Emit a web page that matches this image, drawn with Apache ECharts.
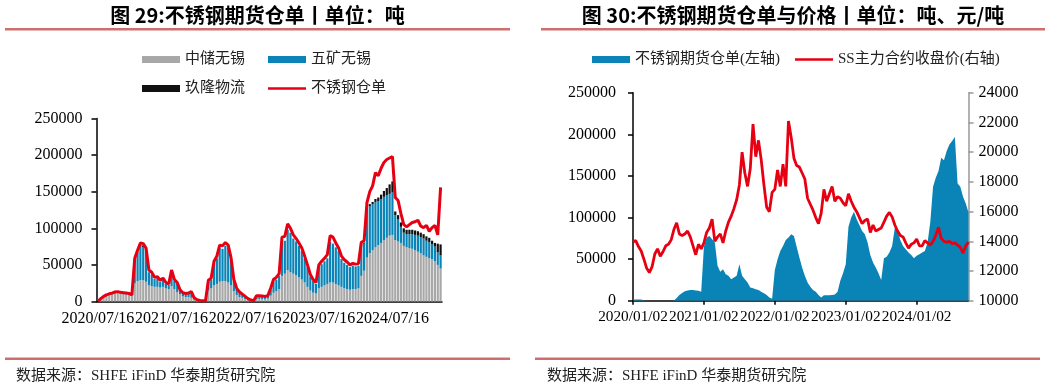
<!DOCTYPE html>
<html><head><meta charset="utf-8">
<script src="https://cdn.jsdelivr.net/npm/echarts@6/dist/echarts.min.js"></script>
<style>html,body{margin:0;padding:0;background:#fff}#c{width:1057px;height:389px}</style>
</head><body><div id="c"></div>
<script>
// ---------- Chart 1 (biweekly from 2020/07/16) ----------
const tickLabels1 = ['2020/07/16','2021/07/16','2022/07/16','2023/07/16','2024/07/16'];
const tickIdx1 = [0,26,52,78,104];
const gray1 = [
0,3000,5500,7500,9000,10000,11000,11500,10500,10000,
9500,9000,7500,25000,28000,29000,29000,27000,22000,21000,
20000,20000,19000,20000,18000,17000,21000,17000,13000,10000,
7000,6000,6000,5000,3000,1500,800,500,500,15000,
18000,22000,24000,27000,28000,28000,26000,22000,14000,9000,
6000,5000,3500,2000,1000,500,3000,3500,3500,3500,
4000,8000,12000,14000,17000,35000,38000,43000,40000,38000,
36000,33000,30000,26000,20000,15000,12000,11000,18000,20000,
22000,24000,26000,26000,24000,22000,20000,18000,17000,16000,
17000,17000,18000,35000,42000,60000,66000,70000,74000,77000,
80000,84000,87000,90000,91000,84000,82000,80000,76000,74000,
73000,72000,70000,68000,66000,63000,61000,59000,58000,55000,
50000,45000];
const blue1 = [
0,500,800,800,800,800,1000,1000,1000,1000,
1000,1000,800,30000,38000,46000,45000,40000,18000,16000,
11000,12000,8000,10000,6000,5500,19000,11000,11000,5000,
4000,4000,4500,6000,1500,800,500,300,300,12000,
12000,30000,35000,46000,44000,48000,47000,34000,14000,8000,
6000,4000,3000,1500,800,300,4000,3500,3000,3000,
3500,8000,15000,16000,18000,45000,45000,55000,54000,48000,
46000,43000,39000,33000,27000,19000,16000,13000,28000,31000,
33000,35000,55000,53000,50000,47000,38000,35000,33000,31000,
32000,31000,31000,42000,37000,65000,64000,63000,62000,60000,
60000,59000,58000,57000,58000,34000,30000,22000,18000,18000,
19000,20000,21000,22000,22000,23000,22000,22000,20000,20000,
17000,18000];
const black1 = [
0,0,0,0,0,0,0,0,0,0,
0,0,0,0,1000,2000,2500,2000,0,0,
0,0,0,0,0,0,0,0,0,0,
0,0,0,0,0,0,0,0,0,0,
0,0,0,0,0,0,0,0,0,0,
0,0,0,0,0,0,0,0,0,0,
0,0,0,0,0,0,0,0,0,0,
0,0,0,0,0,0,0,0,0,0,
0,0,0,0,0,0,0,0,0,0,
0,0,0,1000,1500,2000,3000,3000,4000,5000,
6000,8000,10000,13000,15000,5000,6000,6000,6000,6000,
6000,6000,6000,6000,6000,6000,6000,6000,5000,5000,
12000,15000];
const total1 = [
0,4000,7000,9000,10500,11500,13000,13500,12500,12000,
11500,11000,9000,59000,70000,80000,79000,73000,43000,40000,
33000,34000,29000,32000,26000,24000,43000,30000,26000,16000,
12000,11000,11500,13500,5000,2500,1500,1000,1000,29000,
32000,55000,62000,77000,76000,80500,77000,60000,30000,18000,
13000,10000,7000,4000,2000,1000,8000,8000,7500,7000,
8000,18000,30000,33000,38000,88000,89000,106000,100000,91000,
86000,80000,73000,62000,50000,37000,30000,26000,50000,55000,
59000,64000,90000,88000,80000,73000,62000,57000,54000,50000,
52000,51000,52000,81000,83000,135000,150000,158000,176000,172000,
182000,190000,194000,196000,198000,142000,138000,120000,105000,102000,
105000,108000,109000,111000,103000,101000,104000,96000,101000,104000,
91000,156000];

// ---------- Chart 2 (biweekly from 2020/01/02) ----------
const tickLabels2 = ['2020/01/02','2021/01/02','2022/01/02','2023/01/02','2024/01/02'];
const tickIdx2 = [0,26,52,78,104];
const receipts2 = [
1500,1700,1700,1500,800,200,0,0,0,0,
0,0,0,0,0,500,3500,7000,9500,11500,
12500,13000,13000,12500,12000,11000,65000,76000,78000,74000,
70000,42000,35000,38000,32000,30000,26000,28000,30000,44000,
30000,26000,22000,16000,15000,14000,13000,11000,9000,7000,
4000,2500,37000,50000,60000,66000,73000,76000,80000,78000,
65000,52000,40000,30000,22000,17000,13000,11000,7000,4000,
6800,6800,6800,7000,7500,11000,24000,33000,44000,89000,
100000,107000,98000,91000,84000,80000,70000,55000,46000,40000,
33000,25000,51000,53000,58000,66000,88000,84000,73000,66000,
62000,58000,55000,51000,54000,56000,58000,60000,70000,95000,
137000,148000,156000,172000,169000,180000,188000,192000,197000,141000,
137000,125000,117000,106000];
const price2 = [
13960,14050,13650,13350,12800,12200,11900,12300,13150,13500,
13000,13300,13700,13800,14100,14800,15250,14500,14400,14500,
14700,14300,13700,13100,13800,13500,13900,14600,14900,15500,
14000,14300,14500,13900,14700,15300,15700,16200,16800,17800,
20000,18600,17700,18900,21900,19700,20800,19500,17800,16300,
16000,17300,17500,18800,17700,19200,17700,22100,21000,19600,
19100,19000,18600,18200,16900,16500,16100,15600,15200,15900,
17500,16700,17200,17700,16700,17000,16900,16600,16400,17200,
16700,16300,16000,15600,15200,15400,15500,14600,15100,14700,
14800,14900,15300,15700,15950,15650,15100,14700,14400,14300,
13900,13550,13800,13900,14150,13700,13700,14050,13900,13750,
14000,14400,14950,14200,14000,13950,14000,13850,13900,13750,
13600,13200,13700,13950];

function dateCats(start, n, stepDays){
  const out=[]; const d0=new Date(start+'T00:00:00Z').getTime();
  for(let i=0;i<n;i++){ out.push(new Date(d0+i*stepDays*864e5).toISOString().slice(0,10).replace(/-/g,'/')); }
  return out;
}
const cats1 = dateCats('2020-07-16', total1.length, 14);
const cats2 = dateCats('2020-01-02', price2.length, 14);

const SERIF = '"Liberation Serif","Noto Sans CJK SC",serif';
const RED = '#E60012', BLUE = '#0A84B6', GRAY = '#A8A8A8', BLACK = '#111111';

const chart = echarts.init(document.getElementById('c'));
const axisLab = {fontFamily: SERIF, fontSize: 16, color: '#000', formatter: (v)=>String(v)};
const legText = {fontFamily: SERIF, fontSize: 15, color: '#222'};
function leg(left, top, h, gap, data){
  return {left: left, top: top, itemWidth: 38, itemHeight: h, itemGap: gap, textStyle: legText, data: data, selectedMode: false};
}

chart.setOption({
  animation: false,
  backgroundColor: '#fff',
  grid: [
    {left: 96.5, top: 118.5, width: 345.5, height: 183},
    {left: 633, top: 92.8, width: 335.5, height: 208}
  ],
  legend: [
    leg(137, 47, 7, 23, [{name:'中储无锡', icon:'rect'}, {name:'五矿无锡', icon:'rect'}]),
    leg(137, 76, 7, 23, [{name:'玖隆物流', icon:'rect'}]),
    leg(263, 76, 2.5, 23, [{name:'不锈钢仓单', icon:'rect'}]),
    leg(587, 47, 7, 7, [{name:'不锈钢期货仓单(左轴)', icon:'rect'}]),
    leg(790, 47, 2.5, 7, [{name:'SS主力合约收盘价(右轴)', icon:'rect'}])
  ],
  xAxis: [
    {type: 'category', gridIndex: 0, data: cats1, boundaryGap: true,
     axisLine: {lineStyle: {color: '#000', width: 1.5}},
     axisTick: {alignWithLabel: true, length: 4, interval: (i)=>tickIdx1.includes(i), lineStyle: {color: '#000', width: 1.5}},
     axisLabel: {fontFamily: SERIF, fontSize: 16, color: '#000', interval: (i)=>tickIdx1.includes(i), margin: 9,
       showMinLabel: true, showMaxLabel: true, hideOverlap: false,
       formatter: (v, i)=>tickLabels1[tickIdx1.indexOf(i)] || ''}},
    {type: 'category', gridIndex: 1, data: cats2, boundaryGap: false,
     axisLine: {lineStyle: {color: '#000', width: 1.5}},
     axisTick: {length: 4, interval: (i)=>tickIdx2.includes(i), lineStyle: {color: '#000', width: 1.5}},
     axisLabel: {fontFamily: SERIF, fontSize: 15.3, color: '#000', interval: (i)=>tickIdx2.includes(i), margin: 9,
       showMinLabel: true, showMaxLabel: true, hideOverlap: false,
       formatter: (v, i)=>tickLabels2[tickIdx2.indexOf(i)] || ''}}
  ],
  yAxis: [
    {type: 'value', gridIndex: 0, min: 0, max: 250000, interval: 50000, splitLine: {show: false},
     axisLine: {show: true, lineStyle: {color: '#000', width: 1.5}},
     axisTick: {show: true, length: 5, lineStyle: {color: '#000', width: 1.5}},
     axisLabel: Object.assign({margin: 14}, axisLab)},
    {type: 'value', gridIndex: 1, position: 'left', min: 0, max: 250000, interval: 50000, splitLine: {show: false},
     axisLine: {show: true, lineStyle: {color: '#000', width: 1.5}},
     axisTick: {show: true, length: 5, lineStyle: {color: '#000', width: 1.5}},
     axisLabel: Object.assign({margin: 17}, axisLab)},
    {type: 'value', gridIndex: 1, position: 'right', min: 10000, max: 24000, interval: 2000, splitLine: {show: false},
     axisLine: {show: true, lineStyle: {color: '#999', width: 1.5}},
     axisTick: {show: true, length: 5, lineStyle: {color: '#999', width: 1.5}},
     axisLabel: Object.assign({margin: 10}, axisLab)}
  ],
  series: [
    {name: '中储无锡', type: 'bar', xAxisIndex: 0, yAxisIndex: 0, stack: 's1', data: gray1, barCategoryGap: '22%', itemStyle: {color: GRAY}},
    {name: '五矿无锡', type: 'bar', xAxisIndex: 0, yAxisIndex: 0, stack: 's1', data: blue1, itemStyle: {color: BLUE}},
    {name: '玖隆物流', type: 'bar', xAxisIndex: 0, yAxisIndex: 0, stack: 's1', data: black1, itemStyle: {color: BLACK}},
    {name: '不锈钢仓单', type: 'line', xAxisIndex: 0, yAxisIndex: 0, data: total1, symbol: 'none', lineStyle: {color: RED, width: 3}, itemStyle: {color: RED}, z: 5},
    {name: '不锈钢期货仓单(左轴)', type: 'line', xAxisIndex: 1, yAxisIndex: 1, data: receipts2, symbol: 'none',
     lineStyle: {width: 0, color: BLUE}, itemStyle: {color: BLUE}, areaStyle: {color: BLUE, opacity: 1}},
    {name: 'SS主力合约收盘价(右轴)', type: 'line', xAxisIndex: 1, yAxisIndex: 2, data: price2, symbol: 'none',
     lineStyle: {color: RED, width: 2.8}, itemStyle: {color: RED}, z: 5}
  ],
  graphic: [
    {type: 'text', style: {text: '图 29:不锈钢期货仓单丨单位：吨', x: 257.5, y: 15, align: 'center', verticalAlign: 'middle', fontFamily: '"Noto Sans CJK SC",sans-serif', fontWeight: 'bold', fontSize: 20, fill: '#000'}},
    {type: 'text', style: {text: '图 30:不锈钢期货仓单与价格丨单位：吨、元/吨', x: 793, y: 15, align: 'center', verticalAlign: 'middle', fontFamily: '"Noto Sans CJK SC",sans-serif', fontWeight: 'bold', fontSize: 20, fill: '#000'}},
    {type: 'rect', shape: {x: 5, y: 28, width: 505, height: 2.5}, style: {fill: '#CF6E6E'}},
    {type: 'rect', shape: {x: 541, y: 28, width: 504, height: 2.5}, style: {fill: '#CF6E6E'}},
    {type: 'rect', shape: {x: 5, y: 357.5, width: 505, height: 2.5}, style: {fill: '#CF6E6E'}},
    {type: 'rect', shape: {x: 535, y: 357.5, width: 505, height: 2.5}, style: {fill: '#CF6E6E'}},
    {type: 'text', style: {text: '数据来源：SHFE iFinD 华泰期货研究院', x: 16, y: 376, verticalAlign: 'middle', fontFamily: SERIF, fontSize: 15, fill: '#222'}},
    {type: 'text', style: {text: '数据来源：SHFE iFinD 华泰期货研究院', x: 547, y: 376, verticalAlign: 'middle', fontFamily: SERIF, fontSize: 15, fill: '#222'}}
  ]
});
</script></body></html>
